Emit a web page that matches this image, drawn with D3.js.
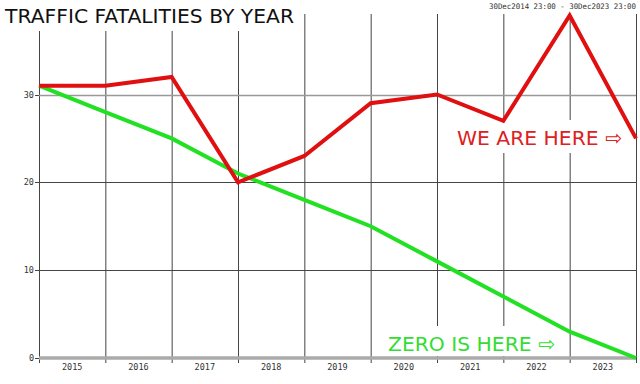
<!DOCTYPE html>
<html>
<head>
<meta charset="utf-8">
<script src="https://cdn.jsdelivr.net/npm/d3@7"></script>
<style>
html,body{margin:0;padding:0;background:#fff;}
svg{display:block;}
</style>
</head>
<body>
<svg id="c" width="640" height="384"></svg>
<script>
// ---- data ----
const pointYears = [2014, 2015, 2016, 2017, 2018, 2019, 2020, 2021, 2022, 2023];
const labelYears = ["2015", "2016", "2017", "2018", "2019", "2020", "2021", "2022", "2023"];
const fatalities = [31, 31, 32, 20, 23, 29, 30, 27, 39, 25];
const zeroTarget = [31, 28, 25, 21, 18, 15, 11, 7, 3, 0];
const yTicks = [0, 10, 20, 30];
const titleText = "TRAFFIC FATALITIES BY YEAR";
const rangeText = "30Dec2014 23:00 - 30Dec2023 23:00";
const redNote = "WE ARE HERE \u21E8";
const greenNote = "ZERO IS HERE \u21E8";

const svg = d3.select("#c");
const L = 39, R = 636, T = 14, B = 358;

const x = d3.scaleLinear().domain([0, pointYears.length - 1]).range([L, R]);
const y = d3.scaleLinear().domain([0, 30]).range([B, 94.5]);

const g = svg.append("g");

// vertical grid lines (at each data point) extending below axis as ticks
g.selectAll("line.vg").data(pointYears).join("line")
  .attr("x1", (d, i) => x(i) + 0.5).attr("x2", (d, i) => x(i) + 0.5)
  .attr("y1", T).attr("y2", B + 5)
  .attr("stroke", "#444").attr("stroke-width", 1);

// horizontal grid lines
g.selectAll("line.hg").data(yTicks.filter(v => v === 10 || v === 20)).join("line")
  .attr("x1", L).attr("x2", R)
  .attr("y1", d => Math.round(y(d)) + 0.5).attr("y2", d => Math.round(y(d)) + 0.5)
  .attr("stroke", "#444").attr("stroke-width", 1);

// hrule at 30 (light gray)
g.append("line")
  .attr("x1", L).attr("x2", R)
  .attr("y1", Math.round(y(30)) + 0.5).attr("y2", Math.round(y(30)) + 0.5)
  .attr("stroke", "#999").attr("stroke-width", 1.5);

// zero rule thick gray
g.append("line")
  .attr("x1", L).attr("x2", R)
  .attr("y1", y(0)).attr("y2", y(0))
  .attr("stroke", "#aaa").attr("stroke-width", 3.5);

// y ticks and labels
g.selectAll("line.yt").data(yTicks).join("line")
  .attr("x1", L - 4).attr("x2", L)
  .attr("y1", d => Math.round(y(d)) + 0.5).attr("y2", d => Math.round(y(d)) + 0.5)
  .attr("stroke", "#444");
g.selectAll("text.yl").data(yTicks).join("text")
  .attr("x", L - 5).attr("y", d => y(d) + 3)
  .attr("text-anchor", "end")
  .attr("font-family", "DejaVu Sans Mono, monospace").attr("font-size", 8.5)
  .attr("fill", "#333").text(d => d);

// x labels centered between grid lines
g.selectAll("text.xl").data(labelYears).join("text")
  .attr("x", (d, i) => x(i + 0.5)).attr("y", 370)
  .attr("text-anchor", "middle")
  .attr("font-family", "DejaVu Sans Mono, monospace").attr("font-size", 8.5)
  .attr("fill", "#333").text(d => d);

// title with white background
svg.append("rect").attr("x", 0).attr("y", 0).attr("width", 300).attr("height", 31).attr("fill", "#fff");
svg.append("text").attr("x", 5).attr("y", 23)
  .attr("font-family", "DejaVu Sans").attr("font-size", 20)
  .attr("textLength", 289).attr("lengthAdjust", "spacingAndGlyphs")
  .attr("fill", "#111").text(titleText);

// range text
svg.append("text").attr("x", 489).attr("y", 9)
  .attr("font-family", "DejaVu Sans Mono, monospace").attr("font-size", 7.6)
  .attr("textLength", 147).attr("lengthAdjust", "spacingAndGlyphs")
  .attr("fill", "#333").text(rangeText);

// notes with white backgrounds
svg.append("rect").attr("x", 450).attr("y", 120).attr("width", 176).attr("height", 33).attr("fill", "#fff");
svg.append("text").attr("x", 457).attr("y", 145)
  .attr("font-family", "DejaVu Sans").attr("font-size", 20)
  .attr("textLength", 165).attr("lengthAdjust", "spacingAndGlyphs")
  .attr("fill", "#dd2020").text(redNote);

svg.append("rect").attr("x", 381).attr("y", 326).attr("width", 182).attr("height", 30).attr("fill", "#fff");
svg.append("text").attr("x", 388).attr("y", 351)
  .attr("font-family", "DejaVu Sans").attr("font-size", 20)
  .attr("textLength", 167).attr("lengthAdjust", "spacingAndGlyphs")
  .attr("fill", "#33dd33").text(greenNote);

// data lines
const line = d3.line().x((d, i) => x(i)).y(d => y(d));
svg.append("path").datum(zeroTarget).attr("d", line)
  .attr("fill", "none").attr("stroke", "#22e022").attr("stroke-width", 4).attr("stroke-linejoin", "miter");
svg.append("path").datum(fatalities).attr("d", line)
  .attr("fill", "none").attr("stroke", "#e01010").attr("stroke-width", 4).attr("stroke-linejoin", "miter");
</script>
</body>
</html>
